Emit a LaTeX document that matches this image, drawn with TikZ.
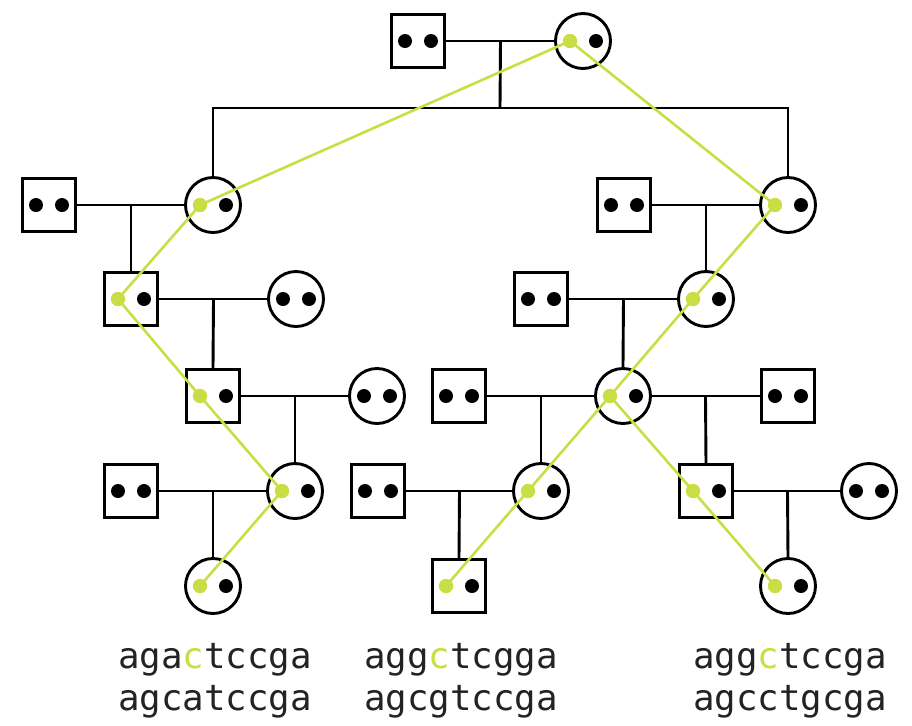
\documentclass[tikz,border=0pt]{standalone}
\usepackage{fontspec}
\newfontfamily\seqfont{DejaVu Sans Mono}
\usetikzlibrary{calc}
\definecolor{lime}{RGB}{200,222,68}
\definecolor{ink}{RGB}{35,35,35}

% two black alleles, or a marked one on the left
\newcommand{\twodots}[1]{\fill ($(#1)+(-13,0)$) circle (3.5pt); \fill ($(#1)+(13,0)$) circle (3.5pt);}
\newcommand{\markdots}[1]{\fill[lime] (#1g) circle (3.6pt); \fill ($(#1)+(13,0)$) circle (3.5pt);}

\begin{document}
\begin{tikzpicture}[x=0.5pt,y=-0.5pt,line width=1.45pt,
  male/.style={draw,rectangle,minimum size=26.5pt,inner sep=0pt},
  female/.style={draw,circle,minimum size=27.5pt,inner sep=0pt},
  seq/.style={font=\seqfont\fontsize{17.9}{21}\selectfont,text=ink,align=center,inner sep=0pt},
  trace/.style={lime,line width=1.3pt}]
\useasboundingbox (0,0) rectangle (912,725);

% generation 0
\node[male] (m0) at (418,41) {};
\node[female] (f0) at (583,41) {};
% generation 1
\node[male] (m1) at (49,205) {};
\node[female] (f1) at (213,205) {};
\node[male] (m2) at (624,205) {};
\node[female] (f2) at (788,205) {};
% generation 2
\node[male] (m3) at (131,299) {};
\node[female] (f3) at (296,299) {};
\node[male] (m4) at (541,299) {};
\node[female] (f4) at (706,299) {};
% generation 3
\node[male] (m5) at (213,396) {};
\node[female] (f5) at (377,396) {};
\node[male] (m6) at (459,396) {};
\node[female] (f6) at (623,396) {};
\node[male] (m7) at (788,396) {};
% generation 4
\node[male] (m8) at (131,491) {};
\node[female] (f7) at (295,491) {};
\node[male] (m9) at (378,491) {};
\node[female] (f8) at (541,491) {};
\node[male] (m10) at (706,491) {};
\node[female] (f9) at (869,491) {};
% generation 5
\node[female] (f10) at (213,586) {};
\node[male] (m11) at (459,586) {};
\node[female] (f11) at (788,586) {};

% couples and children
\coordinate (sib) at (500,108);
\draw (m0) -- (f0);
\draw ($(m0)!.5!(f0)$) -- (sib);
\draw (f1.north) |- (sib) -| (f2.north);
\draw (m1) -- (f1);  \draw ($(m1)!.5!(f1)$) -- (m3.north);
\draw (m2) -- (f2);  \draw ($(m2)!.5!(f2)$) -- (f4.north);
\draw (m3) -- (f3);  \draw ($(m3)!.5!(f3)$) -- (m5.north);
\draw (m4) -- (f4);  \draw ($(m4)!.5!(f4)$) -- (f6.north);
\draw (m5) -- (f5);  \draw ($(m5)!.5!(f5)$) -- (f7.north);
\draw (m6) -- (f6);  \draw ($(m6)!.5!(f6)$) -- (f8.north);
\draw (f6) -- (m7);  \draw ($(f6)!.5!(m7)$) -- (m10.north);
\draw (m8) -- (f7);  \draw ($(m8)!.5!(f7)$) -- (f10.north);
\draw (m9) -- (f8);  \draw ($(m9)!.5!(f8)$) -- (m11.north);
\draw (m10) -- (f9); \draw ($(m10)!.5!(f9)$) -- (f11.north);

% the marked allele
\foreach \n in {f0,f1,m3,m5,f7,f10,f2,f4,f6,f8,m11,m10,f11}
  \coordinate (\n g) at ($(\n)+(-13,0)$);
\draw[trace] (f0g) -- (f1g) -- (m3g) -- (m5g) -- (f7g) -- (f10g);
\draw[trace] (f0g) -- (f2g) -- (f4g) -- (f6g) -- (f8g) -- (m11g);
\draw[trace] (f6g) -- (m10g) -- (f11g);

\foreach \n in {m0,m1,f3,m4,f5,m6,m7,m8,m9,f9,m2}
  {\twodots{\n}}
\foreach \n in {f0,f1,m3,m5,f7,f10,f2,f4,f6,f8,m11,m10,f11}
  {\markdots{\n}}

% sequences
\node[seq] (seqL) at (215,681) {aga\textcolor{lime}{c}tccga\\agcatccga};
\node[seq] (seqM) at (461,681) {agg\textcolor{lime}{c}tcgga\\agcgtccga};
\node[seq] (seqR) at (790,681) {agg\textcolor{lime}{c}tccga\\agcctgcga};
\end{tikzpicture}
\end{document}
